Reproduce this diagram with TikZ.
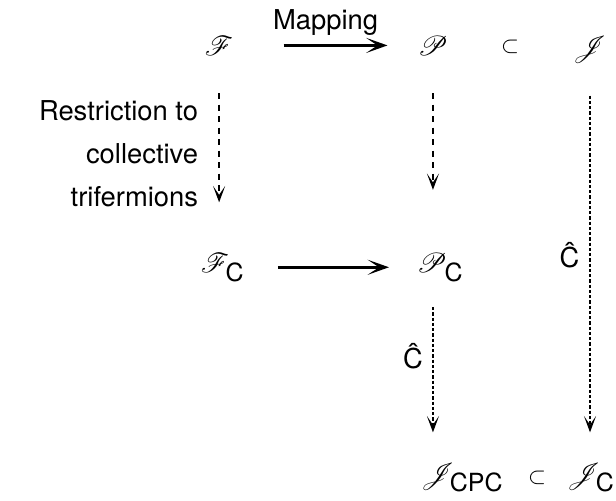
\documentclass[tikz,border=0pt]{standalone}
\usepackage{amsmath,mathrsfs}
\usepackage{fontspec}
\setmainfont{TeX Gyre Heros}
\DeclareMathSizes{10.95}{10.95}{10}{7}
\usetikzlibrary{arrows.meta,positioning}

\begin{document}
\begin{tikzpicture}[x=0.4pt, y=-0.4pt,
  set/.style={inner sep=1pt, font=\fontsize{10.95}{13}\selectfont},
  incl/.style={inner sep=1pt, font=\fontsize{9}{10}\selectfont},
  lbl/.style={inner sep=1pt, font=\fontsize{10.95}{17.2}\selectfont, align=right},
  maparr/.style={-{Stealth[length=8.5pt, width=6pt, inset=4.5pt]}, line width=1pt},
  resarr/.style={-{Stealth[length=6.5pt, width=4.8pt, inset=3.5pt]}, line width=0.85pt,
                 dash pattern=on 2.4pt off 2.2pt},
  carr/.style={-{Stealth[length=6.5pt, width=4.8pt, inset=3.5pt]}, line width=0.85pt,
               dash pattern=on 1.3pt off 0.8pt}
]
\useasboundingbox (0,0) rectangle (616,501);

% Sets
\node[set, anchor=base west] (F)    at (202,55)  {$\mathscr{F}$};
\node[set, anchor=base west] (P)    at (415,55)  {$\mathscr{P}$};
\node[incl]                  (inc1) at (510,47)  {$\subset$};
\node[set, anchor=base west] (J)    at (570,55)  {$\mathscr{J}$};

\node[set, anchor=base west] (Fc)   at (198,272) {$\mathscr{F}_{\text{C}}$};
\node[set, anchor=base west] (Pc)   at (414,272) {$\mathscr{P}_{\text{C}}$};

\node[set, anchor=base west] (Jcpc) at (418,482) {$\mathscr{J}_{\text{CPC}}$};
\node[incl]                  (inc2) at (537,478) {$\subset$};
\node[set, anchor=base west] (Jc)   at (564,482) {$\mathscr{J}_{\text{C}}$};

% Horizontal maps
\draw[maparr, shorten <=19pt, shorten >=11pt] (F.east) -- (P.west)
  node[lbl, midway, above=2.5pt] (maplbl) {Mapping};
\draw[maparr, shorten <=12pt, shorten >=10pt] (Fc.east) -- (Pc.west);

% Vertical maps
\draw[resarr, shorten <=14pt, shorten >=19pt] (F.south) -- (F.south |- Fc.north)
  node[lbl, midway, left=7pt] (reslbl) {Restriction to\\collective\\trifermions};
\draw[resarr, shorten <=14pt, shorten >=24pt] (P.south) -- (P.south |- Pc.north);
\draw[carr, shorten <=9pt, shorten >=11pt] (P.south |- Pc.south) -- (P.south |- Jcpc.north)
  node[set, pos=0.41, left=2.6pt] (chat1) {\^C};
\draw[carr, shorten <=12pt, shorten >=11pt] (J.south) -- (J.south |- Jc.north)
  node[set, pos=0.48, left=2.8pt] (chat2) {\^C};
\end{tikzpicture}
\end{document}
